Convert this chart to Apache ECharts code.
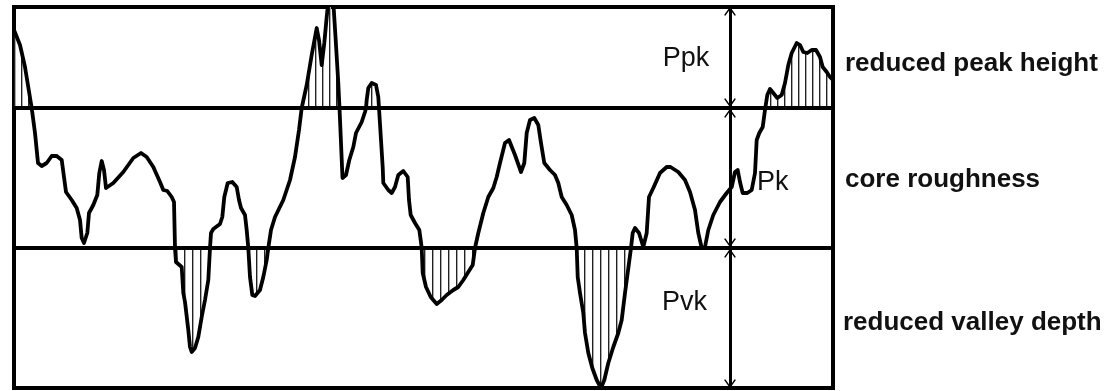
<!DOCTYPE html>
<html><head><meta charset="utf-8">
<script src="https://cdn.jsdelivr.net/npm/echarts@6/dist/echarts.min.js"></script>
<style>html,body{margin:0;padding:0;background:#fff}#c{width:1112px;height:391px}</style>
</head><body><div id="c"></div>
<script>
// Profile trace (x along the profile, y height; lower core level = 0)
const profileX = [0,2,6,11,17.7,21,24,27.7,32.7,37.7,42.7,47.7,50,52,57.7,62.7,66,67.7,70,73.3,75,79.3,83.3,85.3,87.7,90,92,99.3,109.3,119.3,127,132.7,139.3,146,149.3,153.3,157.7,160,161,162,167.7,169.3,171,174.3,176,177.7,181,184.3,187.7,191,194.3,196,197,199.3,206,208.3,210.3,213.7,218.3,222.7,225,227,231,232.7,234.3,236,238.3,241,246,249.3,252.7,254.3,257,261,269.3,276,281,285,287.7,292.7,297.7,302.7,305,307.7,310.3,312.7,314.3,319.3,321.7,324.3,325.5,328.5,332,335.3,339.3,342,347.7,351,352,352.7,354.3,357.7,362,364.3,365,367,368.7,369.3,374.3,377.7,381,384.3,389.3,393.7,395,396.7,401,405.3,406.7,407.7,408.7,412,416.7,422.7,427.7,432.7,439.3,444.3,449.3,454.3,458.7,461,464.3,469.3,474.3,479.3,482.7,486,491,495,501,507,510.3,512.7,516,520.3,524.3,527,530.3,536,541,544.3,547.7,552.7,557.7,561,562.7,563.7,566,569.3,571,574.3,578.3,582.7,587,590.3,594.3,599.3,604.3,607.7,611,615,617,618.7,621,625,629.3,632.7,635,639.3,646,652.7,656.5,664.3,671,676,681,684.3,687.7,691,694.3,699.3,706,712.7,717.7,721,723.7,726,728.7,733.3,737.7,741,742.7,745.3,748.7,751,751.5,753.3,756,759.3,763.3,767.7,771,774.3,777.7,782.7,786,789.3,793.3,797.7,802,806,808.7,812.7,816,819];
const profileY = [218,216,203,181,140,115,85,82,85,92,92,88,71,56,48,40,28,10,5,15,35,43,53,75,87,78,60,65,76,90,95,91,81,66,58,57,51,46,0,-14,-19,-45,-54,-82,-99,-104,-100,-89,-69,-52,-32,0,15,19,24,31,51,65,66,61,48,40,33,18,0,-29,-47,-48,-42,-29,-12,0,18,31,48,68,91,118,140,163,193,220,208,183,205,231,246,246,208,165,140,70,73,88,101,115,126,136,140,148,160,165,163,151,140,108,81,65,58,55,61,73,77,71,48,33,25,18,8,0,-25,-39,-49,-56,-52,-47,-42,-39,-32,-24,-17,0,15,35,51,60,71,85,105,108,93,76,85,115,128,130,123,105,85,78,73,65,51,43,33,18,0,-29,-45,-65,-85,-105,-120,-132,-140,-132,-115,-99,-85,-72,-45,-15,0,15,20,15,1,15,51,60,75,81,81,76,68,56,38,15,0,1,18,33,46,55,61,76,78,66,55,55,58,75,108,115,121,138,140,153,159,155,150,153,165,183,195,205,203,196,195,198,198,191,181,176,171,168];
const upperCore = 140;
const lowerCore = 0;
const xMin = 0, xMax = 819, yMin = -140, yMax = 241;
const arrowX = 716;
const arrowSegments = [[240, 142], [138, 2], [-2, -139]];
const bandLabels = ['Ppk', 'Pk', 'Pvk'];
const sideLabels = ['reduced peak height', 'core roughness', 'reduced valley depth'];

function hatch(step) {
  const c = document.createElement('canvas');
  c.width = step; c.height = 4;
  const g = c.getContext('2d');
  g.fillStyle = '#222';
  g.fillRect(0, 0, 1, 4);
  g.fillStyle = '#aaa';
  g.fillRect(1, 0, 1, 4);
  return c;
}
const pts = profileX.map((x, i) => [x, profileY[i]]);
const peaks = profileX.map((x, i) => [x, Math.max(profileY[i], upperCore)]);
const valleys = profileX.map((x, i) => [x, Math.min(profileY[i], lowerCore)]);

// arrow shafts plus open arrow-head arms (head half-width 5, length 7 in axis units)
const headW = 5, headL = 7;
const arrowLines = [];
arrowSegments.forEach(s => {
  arrowLines.push([{ coord: [arrowX, s[0]], lineStyle: { width: 3 } }, { coord: [arrowX, s[1]] }]);
  [[s[0], -1], [s[1], 1]].forEach(([tip, dir]) => {
    [-1, 1].forEach(side => {
      arrowLines.push([{ coord: [arrowX, tip], lineStyle: { width: 1.3 } },
                       { coord: [arrowX + side * headW, tip + dir * headL] }]);
    });
  });
});

const chart = echarts.init(document.getElementById('c'));
const labelFont = '27px "Liberation Sans", Arial, sans-serif';
const sideFont = 'bold 26px "Liberation Sans", Arial, sans-serif';
function txt(text, x, y, font, align) {
  return { type: 'text', x: x, y: y, silent: true,
    style: { text: text, font: font, fill: '#111', align: align, verticalAlign: 'middle', textAlign: align, textVerticalAlign: 'middle' } };
}
chart.setOption({
  animation: false,
  backgroundColor: '#fff',
  grid: { left: 14, right: 279, top: 7, bottom: 3, show: true, borderColor: '#000', borderWidth: 4, backgroundColor: 'transparent' },
  xAxis: { type: 'value', min: xMin, max: xMax, show: false },
  yAxis: { type: 'value', min: yMin, max: yMax, show: false },
  series: [
    { type: 'line', data: peaks, symbol: 'none', silent: true, z: 1,
      lineStyle: { width: 0, opacity: 0 },
      areaStyle: { color: { image: hatch(7), repeat: 'repeat' }, origin: upperCore, opacity: 1 } },
    { type: 'line', data: valleys, symbol: 'none', silent: true, z: 1,
      lineStyle: { width: 0, opacity: 0 },
      areaStyle: { color: { image: hatch(8), repeat: 'repeat' }, origin: lowerCore, opacity: 1 },
      markLine: {
        silent: true, animation: false, z: 4,
        label: { show: false },
        symbol: 'none',
        lineStyle: { color: '#000', width: 1.3, type: 'solid', cap: 'round' },
        data: arrowLines
      } },
    { type: 'line', data: pts, symbol: 'none', silent: true, z: 3,
      lineStyle: { color: '#000', width: 3.8, join: 'round', cap: 'round' },
      markLine: {
        silent: true, animation: false,
        label: { show: false },
        symbol: 'none',
        lineStyle: { color: '#000', width: 4, type: 'solid' },
        data: [ { yAxis: upperCore }, { yAxis: lowerCore } ]
      } }
  ],
  graphic: [
    txt(bandLabels[0], 686, 58.6, labelFont, 'center'),
    txt(bandLabels[1], 757, 182.6, labelFont, 'left'),
    txt(bandLabels[2], 684.5, 302.6, labelFont, 'center'),
    txt(sideLabels[0], 845, 64, sideFont, 'left'),
    txt(sideLabels[1], 845, 180, sideFont, 'left'),
    txt(sideLabels[2], 843, 323, sideFont, 'left')
  ]
});
</script></body></html>
